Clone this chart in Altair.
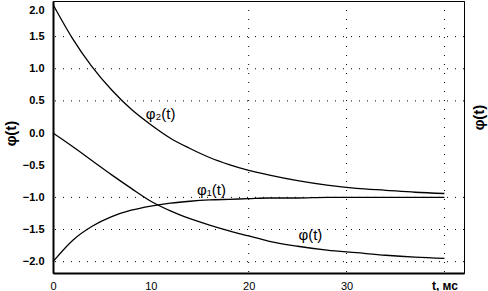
import altair as alt
import pandas as pd

# time axis (ms) and the three curves
t = [0, 2, 4, 6, 8, 10, 12, 14, 16, 18, 20, 22, 25, 28, 31, 34, 37, 40]
phi2 = [2.00, 1.47, 1.03, 0.67, 0.37, 0.13, -0.08, -0.24, -0.38, -0.49,
        -0.58, -0.65, -0.74, -0.81, -0.86, -0.89, -0.92, -0.94]
phi1 = [-2.00, -1.67, -1.45, -1.30, -1.20, -1.135, -1.09, -1.06, -1.04, -1.03,
        -1.02, -1.01, -1.01, -1.00, -1.00, -1.00, -1.00, -1.00]
phi = [0.00, -0.21, -0.43, -0.65, -0.86, -1.06, -1.21, -1.33, -1.43, -1.52,
       -1.60, -1.68, -1.76, -1.82, -1.86, -1.90, -1.93, -1.95]

series_names = ["φ₂(t)", "φ₁(t)", "φ(t)"]

# curve annotations
label_text = ["φ₂(t)", "φ₁(t)", "φ(t)"]
label_t = [11.0, 16.2, 26.3]
label_v = [0.29, -0.88, -1.59]

# axis ticks and grid
x_ticks = [0, 10, 20, 30, 40]
y_ticks = [2.0, 1.5, 1.0, 0.5, 0.0, -0.5, -1.0, -1.5, -2.0]
x_grid = [20, 30, 40]
y_grid = [1.5, 1.0, 0.5, -1.0, -1.5, -2.0]

rows = []
for name, vals in zip(series_names, [phi2, phi1, phi]):
    for ti, vi in zip(t, vals):
        rows.append({"t": ti, "value": vi, "series": name})
df = pd.DataFrame(rows)

FONT = "Liberation Sans"
xs = alt.Scale(domain=[0, 42], nice=False, zero=False)
ys = alt.Scale(domain=[-2.176, 2.054], nice=False, zero=False)

x_axis = alt.Axis(
    values=x_ticks, format="d",
    labelExpr="datum.value == 40 ? 't, мс' : datum.label",
    labelFont=FONT, labelColor="black",
    labelFontSize=alt.condition("datum.value == 40", alt.value(12), alt.value(11)),
    labelFontWeight=alt.condition("datum.value == 40", alt.value("bold"), alt.value("normal")),
    labelPadding=7, labelFlush=False, ticks=False, grid=False,
    domainColor="black", domainWidth=2, title=None,
)
left_axis = alt.Axis(
    values=y_ticks, format=".1f",
    labelFont=FONT, labelFontSize=11, labelFontWeight="bold", labelColor="black",
    labelPadding=9, labelFlush=5, ticks=False, grid=False,
    domainColor="black", domainWidth=2,
    title="φ(t)", titleFont=FONT, titleFontSize=15, titleFontWeight="bold",
    titleColor="black", titleAngle=270, titleX=-43, titleY=132,
    titleBaseline="middle", titleAlign="center",
)
right_axis = alt.Axis(
    orient="right", labels=False, ticks=False, grid=False,
    domainColor="black", domainWidth=1,
    title="φ(t)", titleFont=FONT, titleFontSize=15, titleFontWeight="bold",
    titleColor="black", titleAngle=270, titleX=14, titleY=116,
    titleBaseline="middle", titleAlign="center",
)

vgrid = alt.Chart(pd.DataFrame({"t": x_grid})).mark_rule(
    color="black", strokeWidth=1, strokeDash=[1, 8]
).encode(x=alt.X("t:Q", scale=xs, axis=None))

hgrid = alt.Chart(pd.DataFrame({"v": y_grid})).mark_rule(
    color="black", strokeWidth=1, strokeDash=[1, 7]
).encode(y=alt.Y("v:Q", scale=ys, axis=right_axis))

lines = alt.Chart(df).mark_line(
    color="black", strokeWidth=1.3, interpolate="monotone"
).encode(
    x=alt.X("t:Q", scale=xs, axis=x_axis),
    y=alt.Y("value:Q", scale=ys, axis=left_axis),
    detail="series:N",
)

labels = alt.Chart(pd.DataFrame({"t": label_t, "v": label_v, "label": label_text})).mark_text(
    font=FONT, fontSize=15, color="black"
).encode(
    x=alt.X("t:Q", scale=xs, axis=None),
    y=alt.Y("v:Q", scale=ys, axis=None),
    text="label:N",
)

chart = alt.layer(vgrid, hgrid, lines, labels).resolve_axis(
    x="independent", y="independent"
).properties(
    width=411, height=272,
    padding={"left": 53, "top": 1, "right": 24, "bottom": 18},
    autosize="none", background="white",
).configure_view(stroke="black", strokeWidth=1)

chart.save("out.html", embed_options={"renderer": "svg", "actions": False})
